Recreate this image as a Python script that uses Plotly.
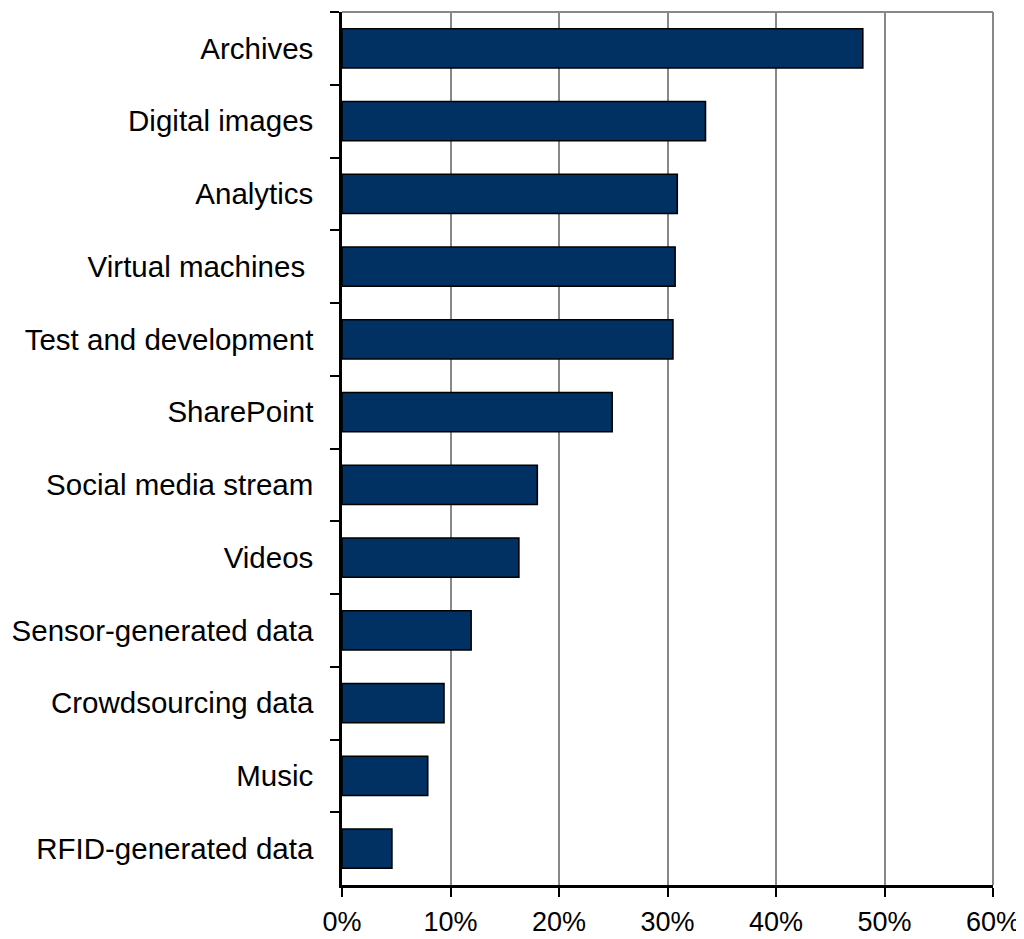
import plotly.graph_objects as go

categories = ["Archives", "Digital images", "Analytics", "Virtual machines ",
              "Test and development", "SharePoint", "Social media stream", "Videos",
              "Sensor-generated data", "Crowdsourcing data", "Music", "RFID-generated data"]
values = [48.0, 33.5, 30.9, 30.7, 30.5, 24.9, 18.0, 16.3, 11.9, 9.4, 7.9, 4.6]
x_ticks = [0, 10, 20, 30, 40, 50, 60]
x_tick_labels = ["0%", "10%", "20%", "30%", "40%", "50%", "60%"]

fig = go.Figure(go.Bar(
    x=values, y=categories, orientation="h",
    marker=dict(color="#003162", line=dict(color="black", width=1.6)),
    width=0.54,
))

yfont = dict(family="Liberation Sans, Arial, sans-serif", size=29.5, color="black")
xfont = dict(family="Liberation Sans, Arial, sans-serif", size=27, color="black")

# page body has an 8px default margin; compensate so the plot sits where the reference has it
fig.update_layout(
    width=1016, height=931,
    margin=dict(l=334, r=31, t=4, b=54, autoexpand=False),
    paper_bgcolor="white", plot_bgcolor="white",
    showlegend=False,
    font=xfont,
    xaxis=dict(
        range=[0, 60], tickvals=x_ticks, ticktext=x_tick_labels,
        showgrid=True, gridcolor="#888888", gridwidth=1.6,
        showline=True, linecolor="black", linewidth=2.5,
        ticks="outside", ticklen=9, tickwidth=2, tickcolor="black",
        zeroline=False, tickfont=xfont, ticklabelstandoff=2,
    ),
    yaxis=dict(
        categoryorder="array", categoryarray=categories, autorange="reversed",
        showline=True, linecolor="black", linewidth=2.5,
        ticks="outside", ticklen=9, tickwidth=2, tickcolor="black",
        tickson="boundaries", showgrid=False, zeroline=False,
        tickfont=yfont, ticklabelstandoff=20,
    ),
    shapes=[
        dict(type="line", xref="paper", yref="paper", x0=0, x1=1, y0=1, y1=1,
             line=dict(color="#888888", width=2), layer="below"),
        dict(type="line", xref="paper", yref="paper", x0=1, x1=1, y0=0, y1=1,
             line=dict(color="#888888", width=2), layer="below"),
    ],
)

fig.write_html("out.html")
